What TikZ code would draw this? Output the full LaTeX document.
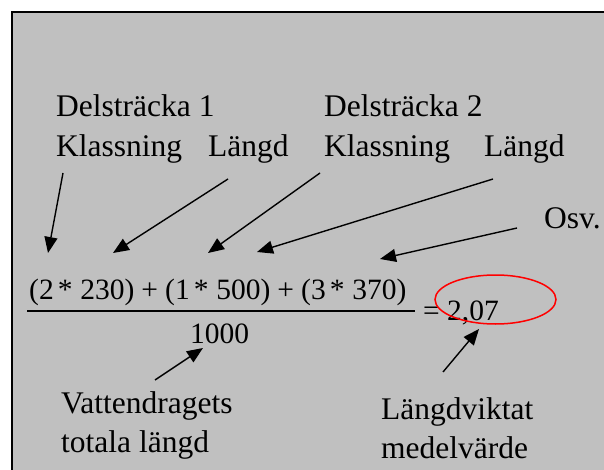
\documentclass[tikz,border=0pt]{standalone}
\usepackage{fontspec}
\setmainfont{Liberation Serif}
\usetikzlibrary{arrows.meta}
\definecolor{panel}{HTML}{C0C0C0}
\newcommand{\mulsign}{\hspace{0.14em}*\hspace{0.26em}}
\begin{document}
\begin{tikzpicture}[x=1pt,y=-1pt,
  lbl/.style={anchor=base west, inner sep=0pt, font=\fontsize{31.5}{40}\selectfont},
  eqn/.style={anchor=base west, inner sep=0pt, font=\fontsize{29.5}{36}\selectfont},
  arr/.style={-{Triangle[length=16pt,width=13pt]}, line width=1.4pt}]
\useasboundingbox (0,0) rectangle (604,470);
\clip (0,0) rectangle (604,470);
\fill[white] (0,0) rectangle (604,470);
\filldraw[fill=panel, draw=black, line width=2pt] (12,12) rectangle (640,500);

% labels
\node[lbl] (d1) at (56,117) {Delsträcka 1};
\node[lbl] (k1) at (56,157) {Klassning};
\node[lbl] (l1) at (208,157) {Längd};
\node[lbl] (d2) at (324,117) {Delsträcka 2};
\node[lbl] (k2) at (324,157) {Klassning};
\node[lbl] (l2) at (484,157) {Längd};
\node[lbl] (osv) at (544,229) {Osv.};
\node[lbl] (v1) at (61,413) {Vattendragets};
\node[lbl] (v2) at (61,452) {totala längd};
\node[lbl] (m1) at (381,419) {Längdviktat};
\node[lbl] (m2) at (381,458) {medelvärde};

% equation
\node[eqn] (num) at (29,299) {(2\mulsign230)\hspace{0.24em}+\hspace{0.24em}(1\mulsign500)\hspace{0.24em}+\hspace{0.24em}(3\mulsign370)};
\node[eqn] (den) at (190,343) {1000};
\node[eqn] (res) at (423,320) {= 2,07};
\draw[line width=1.5pt] (27,311) -- (415,311);

\draw[red, line width=1.5pt] (495.5,299.5) ellipse [x radius=60.5pt, y radius=24.5pt];

% arrow end points
\coordinate (s1) at (63,173);  \coordinate (t1) at (48,253);
\coordinate (s2) at (228,179); \coordinate (t2) at (113,253);
\coordinate (s3) at (320,173); \coordinate (t3) at (208,253);
\coordinate (s4) at (493,179); \coordinate (t4) at (257,252);
\coordinate (s5) at (517,228); \coordinate (t5) at (380,259);
\coordinate (s6) at (155,380); \coordinate (t6) at (203,348);
\coordinate (s7) at (443,372); \coordinate (t7) at (479,329);

\draw[arr] (s1) -- (t1);
\draw[arr] (s2) -- (t2);
\draw[arr] (s3) -- (t3);
\draw[arr] (s4) -- (t4);
\draw[arr] (s5) -- (t5);
\draw[arr] (s6) -- (t6);
\draw[arr] (s7) -- (t7);
\end{tikzpicture}
\end{document}
